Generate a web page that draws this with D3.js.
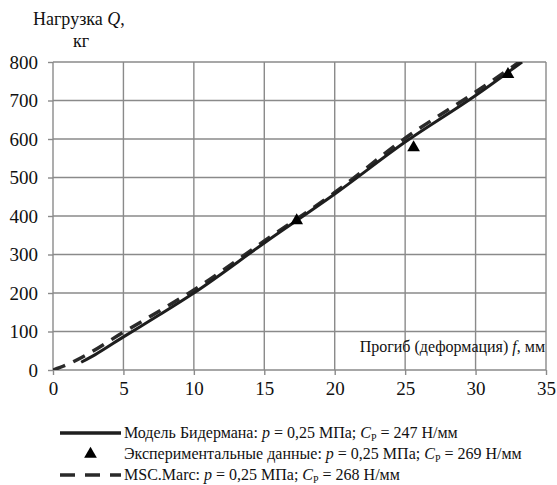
<!DOCTYPE html>
<html><head><meta charset="utf-8">
<script src="https://cdn.jsdelivr.net/npm/d3@7"></script>
<style>
@font-face{font-family:"ChartSerif";src:local("Liberation Serif"),local("LiberationSerif"),local("LiberationSerif-Regular"),local("Times New Roman");font-style:normal;font-weight:400}
@font-face{font-family:"ChartSerif";src:local("Liberation Serif Italic"),local("LiberationSerif-Italic"),local("Times New Roman Italic");font-style:italic;font-weight:400}
body{margin:0;background:#fff}
</style>
</head><body>
<svg id="c" width="557" height="485"></svg>
<script>
const xTicks = [0,5,10,15,20,25,30,35];
const yTicks = [0,100,200,300,400,500,600,700,800];
// Модель Бидермана (solid)
const bidF = [2,3,5,7.5,10,15,20,25,30,33.3];
const bidQ = [20,40,86,142,200,330,457,592,713,800];
// MSC.Marc (dashed)
const mscF = [0,1,2,5,7.5,10,15,20,25,30,33.3];
const mscQ = [0,14,32,98,152,208,335,461,602,722,805];
// Experimental
const expF = [17.3,25.6,32.3];
const expQ = [388,578,768];

const svg = d3.select("#c");
const x = d3.scaleLinear().domain([0,35]).range([53,546]);
const y = d3.scaleLinear().domain([0,800]).range([370,62]);
const grid = "#8a8a8a";
const FONT = '"Liberation Serif", "ChartSerif", "Times New Roman", Tinos';
const txt = (sel, size) => sel.style("font-family",FONT).style("font-size",size+"px").style("fill","#111");

// grid
svg.append("g").selectAll("line").data(xTicks).join("line")
  .attr("x1",d=>x(d)).attr("x2",d=>x(d)).attr("y1",y(0)).attr("y2",y(800))
  .attr("stroke",grid).attr("stroke-width",1.4);
svg.append("g").selectAll("line").data(yTicks).join("line")
  .attr("x1",x(0)).attr("x2",x(35)).attr("y1",d=>y(d)).attr("y2",d=>y(d))
  .attr("stroke",grid).attr("stroke-width",1.4);

// axes
const xa = svg.append("g").attr("transform",`translate(0,${y(0)})`)
  .call(d3.axisBottom(x).tickValues(xTicks).tickSize(5).tickPadding(7));
const ya = svg.append("g").attr("transform",`translate(${x(0)},0)`)
  .call(d3.axisLeft(y).tickValues(yTicks).tickSize(5).tickPadding(10));
[xa,ya].forEach(a=>{
  a.attr("font-family",null).attr("font-size",null);
  a.select(".domain").remove();
  a.selectAll(".tick line").attr("stroke",grid).attr("stroke-width",1.4);
  txt(a.selectAll(".tick text"), 19);
});

// clip
svg.append("clipPath").attr("id","pc").append("rect")
  .attr("x",x(0)).attr("y",y(800)).attr("width",x(35)-x(0)).attr("height",y(0)-y(800));

const line = d3.line().curve(d3.curveMonotoneX);
svg.append("path").attr("clip-path","url(#pc)")
  .attr("d",line(mscF.map((f,i)=>[x(f),y(mscQ[i])])))
  .attr("fill","none").attr("stroke","#2a2a2a").attr("stroke-width",3.5)
  .attr("stroke-dasharray","13,9");
svg.append("path").attr("clip-path","url(#pc)")
  .attr("d",line(bidF.map((f,i)=>[x(f),y(bidQ[i])])))
  .attr("fill","none").attr("stroke","#1e1e1e").attr("stroke-width",3);

const tri = d3.symbol().type(d3.symbolTriangle).size(70);
svg.append("g").selectAll("path").data(expF).join("path")
  .attr("transform",(d,i)=>`translate(${x(d)},${y(expQ[i])})`)
  .attr("d",tri).attr("fill","#000");

// axis titles
const yt = txt(svg.append("text").attr("x",33).attr("y",25), 18);
yt.append("tspan").text("Нагрузка ");
yt.append("tspan").style("font-style","italic").text("Q");
yt.append("tspan").text(",");
txt(svg.append("text").attr("x",81).attr("y",47).attr("text-anchor","middle"), 18).text("кг");

const xt = txt(svg.append("text").attr("x",545).attr("y",352).attr("text-anchor","end"), 16);
xt.append("tspan").text("Прогиб (деформация) ");
xt.append("tspan").style("font-style","italic").text("f");
xt.append("tspan").text(", мм");

// legend
const legend = [
  {type:"solid", pre:"Модель Бидермана: ", val:"247"},
  {type:"tri", pre:"Экспериментальные данные: ", val:"269"},
  {type:"dash", pre:"MSC.Marc: ", val:"268"}
];
const ly = [433,454,475];
legend.forEach((l,i)=>{
  const yy = ly[i];
  if(l.type==="solid") svg.append("line").attr("x1",60).attr("x2",121).attr("y1",yy).attr("y2",yy).attr("stroke","#1e1e1e").attr("stroke-width",3.5);
  if(l.type==="dash") svg.append("line").attr("x1",60).attr("x2",121).attr("y1",yy).attr("y2",yy).attr("stroke","#2a2a2a").attr("stroke-width",3.5).attr("stroke-dasharray","15,10");
  if(l.type==="tri") svg.append("path").attr("transform",`translate(90.5,${yy})`).attr("d",tri).attr("fill","#000");
  const t = txt(svg.append("text").attr("x",124).attr("y",yy+5), 16);
  t.append("tspan").text(l.pre);
  t.append("tspan").style("font-style","italic").text("p");
  t.append("tspan").text(" = 0,25 МПа; ");
  t.append("tspan").style("font-style","italic").text("C");
  t.append("tspan").attr("dy",3).style("font-size","10px").text("Р");
  t.append("tspan").attr("dy",-3).text(" = " + l.val + " Н/мм");
});
</script>
</body></html>
